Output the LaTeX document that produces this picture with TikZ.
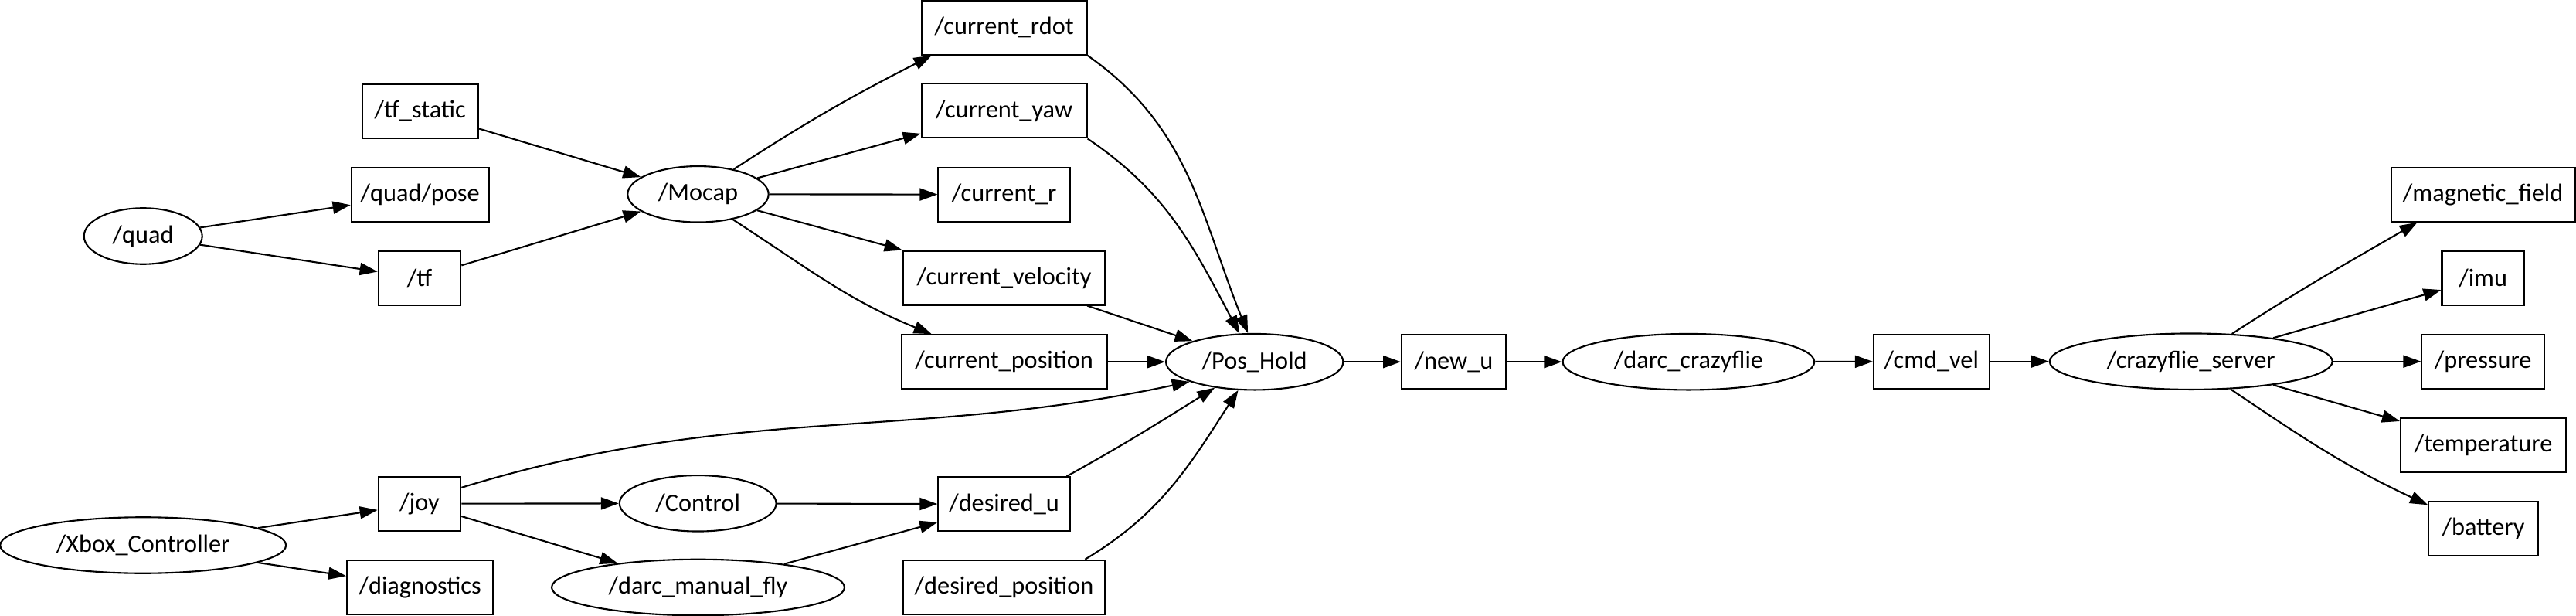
\documentclass[tikz,border=0pt]{standalone}
\usepackage{fontspec}
\setmainfont{Carlito}
\usetikzlibrary{arrows.meta, shapes.geometric}

\begin{document}
\begin{tikzpicture}[
    font=\fontsize{9.2}{11}\selectfont,
    topic/.style={draw, line width=0.6pt, rectangle, minimum height=0.70cm, inner sep=2pt},
    rosnode/.style={draw, line width=0.6pt, ellipse, minimum height=0.725cm, inner sep=1pt},
    arr/.style={-{Triangle[length=2.3mm, width=1.6mm]}, line width=0.6pt}
]
\useasboundingbox (0,0) rectangle (33.34,-7.97);

% ================= MOCAP SIDE =================
\node[rosnode, minimum width=1.53cm] (quad) at (1.852, -3.055) {/quad};
\node[topic, minimum width=1.50cm] (tfstatic) at (5.437, -1.437) {/tf\_static};
\node[topic, minimum width=1.78cm] (quadpose) at (5.437, -2.517) {/quad/pose};
\node[topic, minimum width=1.066cm] (tf) at (5.43, -3.597) {/tf};
\node[rosnode, minimum width=1.824cm] (mocap) at (9.035, -2.513) {/Mocap};

% Mocap topics
\node[topic, minimum width=2.14cm] (rdot) at (12.996, -0.358) {/current\_rdot};
\node[topic, minimum width=2.14cm] (yaw) at (12.996, -1.434) {/current\_yaw};
\node[topic, minimum width=1.705cm] (curr) at (12.996, -2.517) {/current\_r};
\node[topic, minimum width=2.617cm] (curvel) at (12.996, -3.595) {/current\_velocity};
\node[topic, minimum width=2.66cm] (curpos) at (12.996, -4.682) {/current\_position};

% ================= JOYSTICK SIDE =================
\node[rosnode, minimum width=3.70cm] (xbox) at (1.852, -7.055) {/Xbox\_Controller};
\node[topic, minimum width=1.066cm] (joy) at (5.43, -6.517) {/joy};
\node[topic, minimum width=1.894cm] (diagnostics) at (5.437, -7.597) {/diagnostics};
\node[rosnode, minimum width=2.028cm] (control) at (9.032, -6.513) {/Control};
\node[rosnode, minimum width=3.79cm] (manualfly) at (9.035, -7.60) {/darc\_manual\_fly};
\node[topic, minimum width=1.705cm] (desu) at (12.996, -6.523) {/desired\_u};
\node[topic, minimum width=2.617cm] (despos) at (12.996, -7.598) {/desired\_position};

% ================= CONTROL CHAIN =================
\node[rosnode, minimum width=2.294cm] (poshold) at (16.237, -4.682) {/Pos\_Hold};
\node[topic, minimum width=1.347cm] (newu) at (18.815, -4.682) {/new\_u};
\node[rosnode, minimum width=3.258cm] (crazyflie) at (21.854, -4.682) {/darc\_crazyflie};
\node[topic, minimum width=1.497cm] (cmdvel) at (24.998, -4.677) {/cmd\_vel};
\node[rosnode, minimum width=3.66cm] (server) at (28.357, -4.677) {/crazyflie\_server};

% Server topics
\node[topic, minimum width=2.38cm] (magfield) at (32.136, -2.517) {/magnetic\_field};
\node[topic, minimum width=1.063cm] (imu) at (32.136, -3.596) {/imu};
\node[topic, minimum width=1.584cm] (pressure) at (32.136, -4.677) {/pressure};
\node[topic, minimum width=2.14cm] (temperature) at (32.14, -5.758) {/temperature};
\node[topic, minimum width=1.418cm] (battery) at (32.14, -6.838) {/battery};

% Arrows into Mocap
\draw[arr] (quad) -- (quadpose);
\draw[arr] (quad) -- (tf);
\draw[arr] (tfstatic) -- (mocap);
\draw[arr] (tf) -- (mocap);

% Arrows out of Mocap
\draw[arr] (mocap.35) to[out=33, in=207] (rdot.201);
\draw[arr] (mocap) -- (yaw);
\draw[arr] (mocap) -- (curr);
\draw[arr] (mocap) -- (curvel);
\draw[arr] (mocap.-36) to[out=-33, in=158] (curpos.159);

% Joystick arrows
\draw[arr] (xbox) -- (joy);
\draw[arr] (xbox) -- (diagnostics);
\draw[arr] (joy) -- (control);
\draw[arr] (joy) -- (manualfly);
\draw[arr] (control) -- (desu);
\draw[arr] (manualfly) -- (desu);

% Arrows into Pos_Hold
\draw[arr] (rdot.south east) to[out=-35, in=112] (poshold.103);
\draw[arr] (yaw.south east) to[out=-34, in=118] (poshold.118);
\draw[arr] (curvel) -- (poshold);
\draw[arr] (curpos) -- (poshold);
\draw[arr] (joy.21) to[out=17, in=192] (poshold.197);
\draw[arr] (desu.24) to[out=29, in=212] (poshold.213);
\draw[arr] (despos.19) to[out=31, in=237] (poshold.240);

% Chain to the server
\draw[arr] (poshold) -- (newu);
\draw[arr] (newu) -- (crazyflie);
\draw[arr] (crazyflie) -- (cmdvel);
\draw[arr] (cmdvel) -- (server);

% Server outputs
\draw[arr] (server.34) to[out=33, in=210] (magfield.203);
\draw[arr] (server) -- (imu);
\draw[arr] (server) -- (pressure);
\draw[arr] (server) -- (temperature);
\draw[arr] (server.-35) to[out=-34, in=155] (battery.157);

\end{tikzpicture}
\end{document}
